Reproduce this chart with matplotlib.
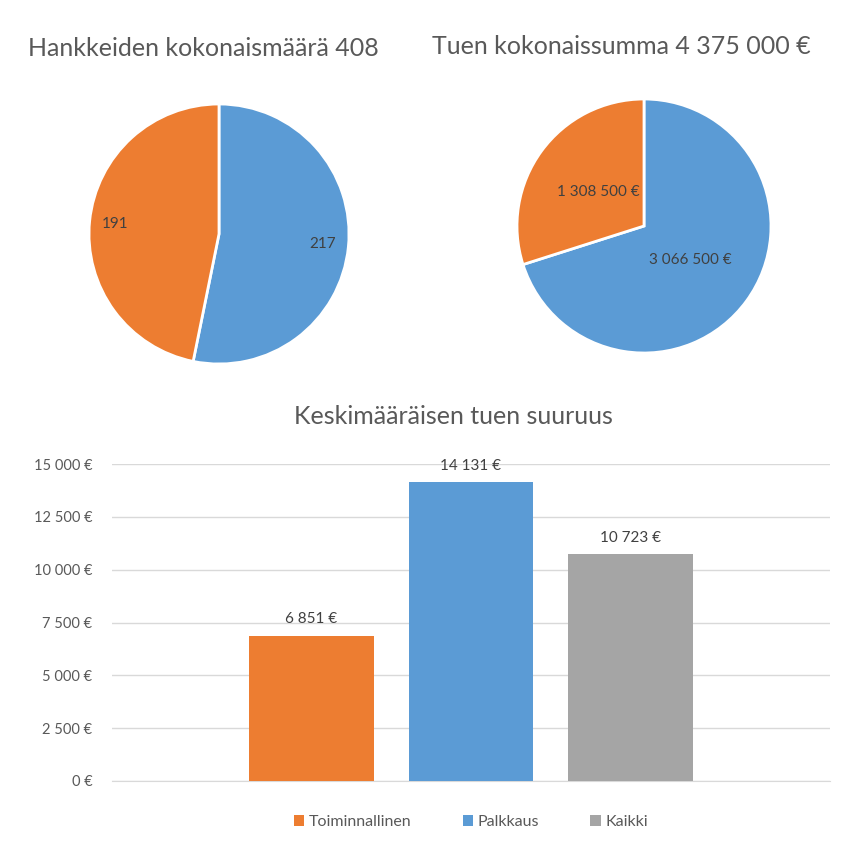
import matplotlib
matplotlib.use("Agg")
import matplotlib.pyplot as plt
from matplotlib.patches import Patch

plt.rcParams['font.family'] = ['Lato', 'DejaVu Sans']

# Data
pie_labels = ["Palkkaus", "Toiminnallinen"]
count_values = [217, 191]
sum_values = [3066500, 1308500]
bar_series = ["Toiminnallinen", "Palkkaus", "Kaikki"]
bar_values = [6851, 14131, 10723]
y_ticks = [0, 2500, 5000, 7500, 10000, 12500, 15000]

title1 = "Hankkeiden kokonaismäärä 408"
title2 = "Tuen kokonaissumma 4 375 000 €"
title3 = "Keskimääräisen tuen suuruus"

ORANGE = "#ED7D31"
BLUE = "#5B9BD5"
GRAY = "#A5A5A5"
TXT = "#595959"
LBL = "#404040"


def fmt(v, euro=True):
    s = f"{v:,.0f}".replace(",", "\u00a0")
    return s + "\u00a0€" if euro else s


fig = plt.figure(figsize=(8.6, 8.57), dpi=100)

# Pie 1
ax1 = fig.add_axes([76 / 860, (857 - 377) / 857, 286 / 860, 286 / 857])
w1, t1, a1 = ax1.pie(count_values, colors=[BLUE, ORANGE], startangle=90, counterclock=False,
                     autopct=lambda p: fmt(round(p * sum(count_values) / 100), euro=False),
                     pctdistance=0.8, wedgeprops=dict(edgecolor="white", linewidth=2),
                     textprops=dict(color=LBL, fontsize=11))
ax1.set_xlim(-1.1, 1.1)
ax1.set_ylim(-1.1, 1.1)
ax1.set_aspect("equal")

# Pie 2
ax2 = fig.add_axes([504.3 / 860, (857 - 365.7) / 857, 279.4 / 860, 279.4 / 857])
w2, t2, a2 = ax2.pie(sum_values, colors=[BLUE, ORANGE], startangle=90, counterclock=False,
                     autopct=lambda p: fmt(round(p * sum(sum_values) / 100 / 100) * 100),
                     pctdistance=0.45, wedgeprops=dict(edgecolor="white", linewidth=2),
                     textprops=dict(color=LBL, fontsize=11))
ax2.set_xlim(-1.1, 1.1)
ax2.set_ylim(-1.1, 1.1)
ax2.set_aspect("equal")

fig.text(203 / 860, 1 - 48 / 857, title1, ha="center", va="center", fontsize=18, color=TXT)
fig.text(621 / 860, 1 - 47 / 857, title2, ha="center", va="center", fontsize=18, color=TXT)
fig.text(453 / 860, 1 - 416 / 857, title3, ha="center", va="center", fontsize=18, color=TXT)

# Bar chart
ax3 = fig.add_axes([112 / 860, (857 - 781) / 857, 718 / 860, 317 / 857])
xs = [-1, 0, 1]
colors = [ORANGE, BLUE, GRAY]
bars = ax3.bar(xs, bar_values, width=0.78, color=colors, zorder=3)
for b, v in zip(bars, bar_values):
    ax3.annotate(fmt(v), (b.get_x() + b.get_width() / 2, v), xytext=(0, 7),
                 textcoords="offset points", ha="center", va="bottom",
                 fontsize=11, color=LBL, annotation_clip=False)
ax3.set_xlim(-2.25, 2.25)
ax3.set_ylim(0, 15000)
ax3.set_yticks(y_ticks)
ax3.set_yticklabels([fmt(v) for v in y_ticks], color=TXT, fontsize=10.5)
ax3.set_xticks([])
ax3.tick_params(axis="y", length=0, pad=14)
ax3.grid(axis="y", color="#D9D9D9", linewidth=1, zorder=0)
for s in ["top", "right", "left"]:
    ax3.spines[s].set_visible(False)
ax3.spines["bottom"].set_color("#D9D9D9")
ax3.spines["bottom"].set_zorder(0)

handles = [Patch(facecolor=c, edgecolor="none") for c in colors]
fig.legend(handles, bar_series, loc="center", bbox_to_anchor=(471 / 860, 1 - 822 / 857),
           ncol=3, frameon=False, handlelength=0.65, handleheight=0.65, handletextpad=0.3,
           columnspacing=3.2, fontsize=11.5, labelcolor=TXT)

fig.savefig("out.png", dpi=100)
